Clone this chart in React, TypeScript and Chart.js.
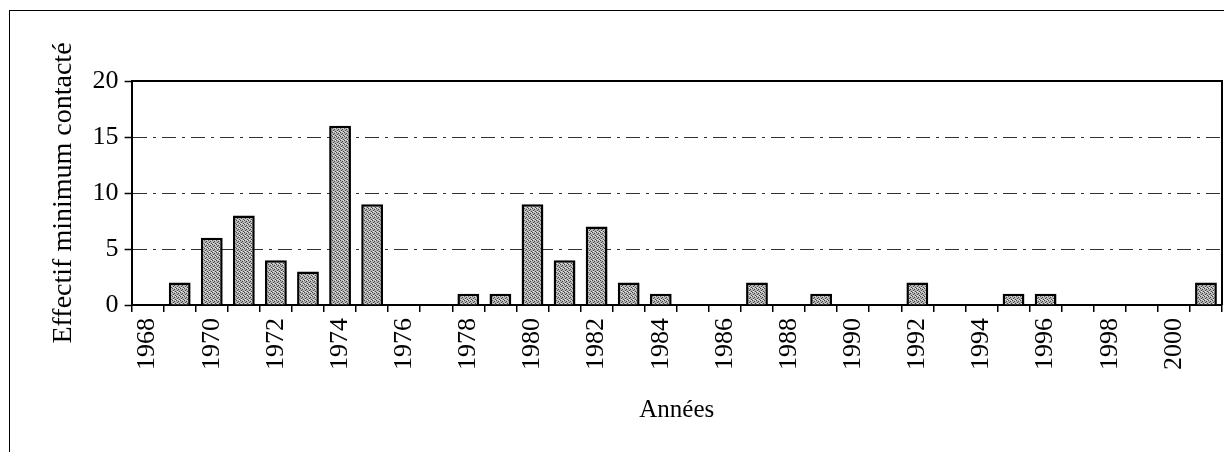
import React, { useEffect, useRef } from "react";
import { Chart, registerables } from "chart.js";

Chart.register(...registerables);

const years: string[] = [
  "1968", "1969", "1970", "1971", "1972", "1973", "1974", "1975", "1976", "1977",
  "1978", "1979", "1980", "1981", "1982", "1983", "1984", "1985", "1986", "1987",
  "1988", "1989", "1990", "1991", "1992", "1993", "1994", "1995", "1996", "1997",
  "1998", "1999", "2000", "2001",
];
const effectif: number[] = [
  0, 2, 6, 8, 4, 3, 16, 9, 0, 0,
  1, 1, 9, 4, 7, 2, 1, 0, 0, 2,
  0, 1, 0, 0, 2, 0, 0, 1, 1, 0,
  0, 0, 0, 2,
];
const yTicks: number[] = [0, 5, 10, 15, 20];
const yTitle = "Effectif minimum contacté";
const xTitle = "Années";

const SERIF = "'Liberation Serif', 'Times New Roman', serif";

function makePattern(): CanvasPattern | string {
  const c = document.createElement("canvas");
  c.width = 4;
  c.height = 4;
  const g = c.getContext("2d");
  if (!g) return "#a0a0a0";
  g.fillStyle = "#b4b4b4";
  g.fillRect(0, 0, 4, 4);
  g.fillStyle = "#444444";
  g.fillRect(0, 0, 1, 1);
  g.fillRect(2, 1, 1, 1);
  g.fillRect(1, 2, 1, 1);
  g.fillRect(3, 3, 1, 1);
  g.fillStyle = "#e6e6e6";
  g.fillRect(3, 0, 1, 1);
  g.fillRect(1, 3, 1, 1);
  const p = g.createPattern(c, "repeat");
  return p || "#a0a0a0";
}

const framePlugin = {
  id: "frame",
  afterDatasetsDraw(chart: any) {
    const { ctx, chartArea } = chart;
    ctx.save();
    ctx.strokeStyle = "#000";
    ctx.lineWidth = 2;
    ctx.beginPath();
    ctx.moveTo(chartArea.left, chartArea.top);
    ctx.lineTo(chartArea.right, chartArea.top);
    ctx.lineTo(chartArea.right, chartArea.bottom);
    ctx.stroke();
    ctx.restore();
  },
};

export default function App() {
  const ref = useRef<HTMLCanvasElement | null>(null);

  useEffect(() => {
    if (!ref.current) return;
    const chart = new Chart(ref.current, {
      type: "bar",
      data: {
        labels: years,
        datasets: [
          {
            data: effectif,
            backgroundColor: makePattern() as any,
            borderColor: "#000",
            borderWidth: 2.5,
            borderSkipped: "bottom",
            categoryPercentage: 1,
            barPercentage: 0.68,
          },
        ],
      },
      options: {
        animation: false,
        responsive: false,
        maintainAspectRatio: false,
        layout: { padding: { left: 39, right: 10, top: 73, bottom: 27 } },
        plugins: {
          legend: { display: false },
          tooltip: { enabled: false },
        },
        scales: {
          x: {
            afterFit: (axis: any) => {
              axis.paddingRight = 0;
            },
            grid: {
              offset: true,
              drawOnChartArea: false,
              drawTicks: true,
              tickLength: 7,
              color: "#000",
              lineWidth: 1.5,
            },
            border: { display: true, color: "#000", width: 2 },
            ticks: {
              autoSkip: false,
              minRotation: 90,
              maxRotation: 90,
              color: "#000",
              padding: 6,
              font: { family: SERIF, size: 26 },
              callback: (_v: any, i: number) => (i % 2 === 0 ? years[i] : ""),
            },
            title: {
              display: true,
              text: xTitle,
              color: "#000",
              font: { family: SERIF, size: 25 },
              padding: { top: 19, bottom: 0 },
            },
          },
          y: {
            min: 0,
            max: 20,
            afterBuildTicks: (axis: any) => {
              axis.ticks = yTicks.map((v) => ({ value: v }));
            },
            grid: {
              drawOnChartArea: true,
              drawTicks: true,
              tickLength: 7,
              color: "#333",
              lineWidth: 1,
              tickColor: "#000",
              tickWidth: 1.5,
            },
            border: { display: true, color: "#000", width: 2, dash: [14, 6, 3, 6] },
            ticks: {
              color: "#000",
              padding: 6,
              font: { family: SERIF, size: 26 },
            },
            title: {
              display: true,
              text: yTitle,
              color: "#000",
              font: { family: SERIF, size: 28 },
              padding: { top: 0, bottom: 6 },
            },
          },
        },
      },
      plugins: [framePlugin],
    });
    return () => chart.destroy();
  }, []);

  return (
    <div style={{ position: "relative", width: 1224, height: 444 }}>
      <div
        style={{
          position: "absolute",
          left: 1,
          top: 2,
          width: 1230,
          height: 450,
          borderTop: "1.5px solid #000",
          borderLeft: "1.5px solid #000",
          boxSizing: "border-box",
        }}
      />
      <canvas
        ref={ref}
        width={1224}
        height={444}
        style={{ position: "absolute", left: 0, top: 0, width: 1224, height: 444 }}
      />
    </div>
  );
}
